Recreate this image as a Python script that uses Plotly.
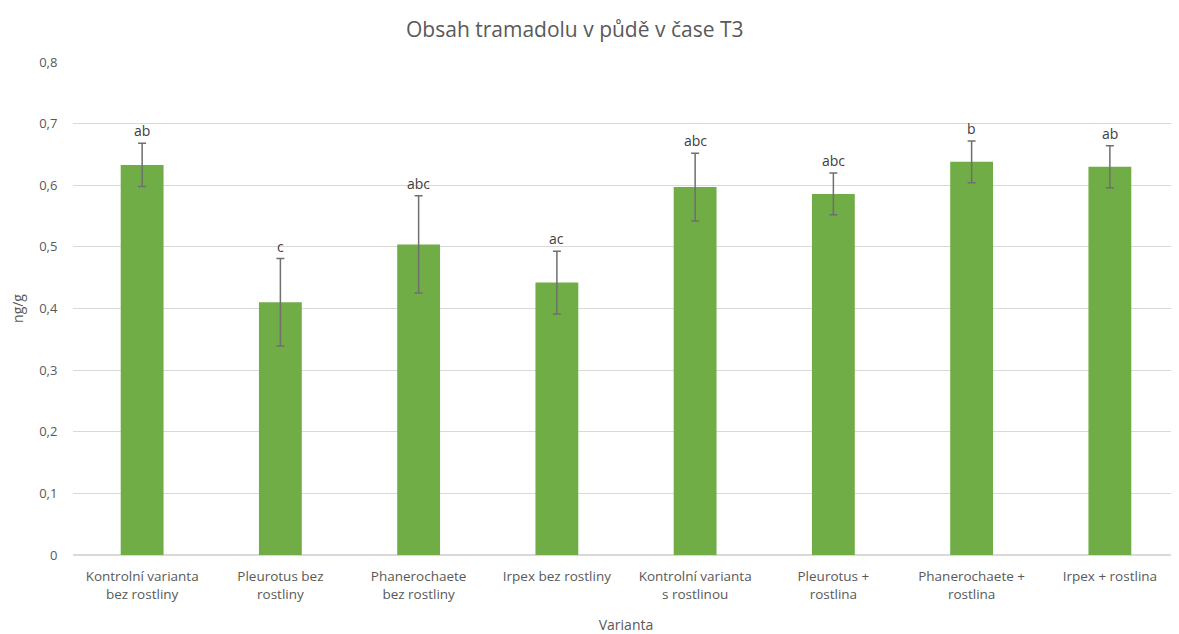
import plotly.graph_objects as go

# data
varianty = [
    "Kontrolní varianta<br>bez rostliny",
    "Pleurotus bez<br>rostliny",
    "Phanerochaete<br>bez rostliny",
    "Irpex bez rostliny",
    "Kontrolní varianta<br>s rostlinou",
    "Pleurotus +<br>rostlina",
    "Phanerochaete +<br>rostlina",
    "Irpex + rostlina",
]
obsah = [0.633, 0.410, 0.504, 0.442, 0.597, 0.586, 0.638, 0.630]
chyba = [0.035, 0.071, 0.079, 0.051, 0.055, 0.034, 0.034, 0.034]
pismena = ["ab", "c", "abc", "ac", "abc", "abc", "b", "ab"]

sedy = "#595959"
font = "Open Sans, Noto Sans, sans-serif"

fig = go.Figure()
fig.add_trace(go.Bar(
    x=varianty, y=obsah,
    marker=dict(color="#70AD47", line=dict(width=0)),
    error_y=dict(type="data", array=chyba, visible=True, color="#6f6f6f", thickness=1.5, width=4),
    hoverinfo="x+y",
))

# písmena nad chybovými úsečkami
for x, y, e, t in zip(varianty, obsah, chyba, pismena):
    fig.add_annotation(x=x, y=y + e, text=t, showarrow=False, yanchor="bottom", yshift=1,
                       font=dict(size=14, color="#404040", family=font))

fig.update_layout(
    width=1171, height=626,
    margin=dict(l=65, r=0, t=54, b=79),
    plot_bgcolor="white", paper_bgcolor="white",
    separators=", ",
    bargap=0.69,
    showlegend=False,
    title=dict(text="Obsah tramadolu v půdě v čase T3", x=0.484, xanchor="center", y=0.965, yanchor="middle",
               font=dict(size=21, color=sedy, family=font)),
    font=dict(family=font, color=sedy, size=13),
)
fig.update_xaxes(
    title=dict(text="Varianta", font=dict(size=14, color=sedy), standoff=18),
    tickfont=dict(size=13.5, color=sedy),
    showgrid=False, showline=True, linecolor="#d9d9d9", linewidth=1,
    ticks="outside", ticklen=9, tickcolor="rgba(0,0,0,0)",
)
fig.update_yaxes(
    title=dict(text="ng/g", font=dict(size=14, color=sedy), standoff=14),
    range=[0, 0.8], dtick=0.1, tickfont=dict(size=13, color=sedy),
    showgrid=True, gridcolor="#d9d9d9", gridwidth=1, zeroline=True, zerolinecolor="#d9d9d9",
    ticks="outside", ticklen=12, tickcolor="rgba(0,0,0,0)",
)

fig.write_html("out.html")
